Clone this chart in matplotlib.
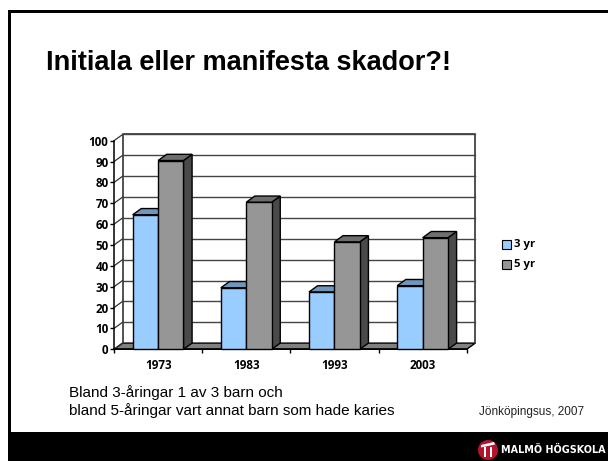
import matplotlib
matplotlib.use('Agg')
import matplotlib.pyplot as plt
from matplotlib.patches import Polygon, Rectangle, Circle

years = ['1973', '1983', '1993', '2003']
yr3 = [64.5, 29.5, 27.5, 30.5]
yr5 = [90.5, 70.5, 51.5, 53.5]
yticks = list(range(0, 101, 10))

W, H = 608, 461
plt.rcParams['font.family'] = ['Liberation Sans', 'DejaVu Sans']

fig = plt.figure(figsize=(W / 100, H / 100), dpi=100)

# slide layer in pixels
bg = fig.add_axes([0, 0, 1, 1])
bg.set_xlim(0, W)
bg.set_ylim(H, 0)
bg.axis('off')
bg.add_patch(Rectangle((8, 10), W - 8, 3, color='black', lw=0))
bg.add_patch(Rectangle((8, 10), 2.5, 422, color='black', lw=0))
bg.add_patch(Rectangle((8, 432), W - 8, 29, color='black', lw=0))
bg.text(46, 63, 'Initiala eller manifesta skador?!', fontsize=19.5, fontweight='bold', va='center')
bg.text(69, 393, 'Bland 3-åringar 1 av 3 barn och', fontsize=11, va='center')
bg.text(69, 411, 'bland 5-åringar vart annat barn som hade karies', fontsize=11, va='center')
bg.text(532, 412, 'Jönköpingsus, 2007', fontsize=8.5, va='center', ha='center', color='#222222')

# logo
bg.add_patch(Circle((488, 450), 10, color='#b5122b', lw=0))
bg.add_patch(Polygon([(481, 445), (494, 442), (495, 444.5), (481, 447.5)], color='white', lw=0))
for lx in (484, 489.5):
    bg.add_patch(Rectangle((lx, 447), 2, 10, color='white', lw=0))
bg.text(553, 450, 'MALMÖ HÖGSKOLA', fontsize=6.9, fontweight='bold', color='white', va='center',
        ha='center', family=['DejaVu Sans'])

# chart front plane: x 114-466.7, y 140.7-349.3 px
ax = fig.add_axes([114 / W, 1 - 349.3 / H, 352.7 / W, 208.6 / H])
ax.set_xlim(0, 4)
ax.set_ylim(0, 100)
ax.patch.set_alpha(0)
dx = 8.6 * 4 / 352.7    # depth of the 3d box
dy = 6.2 * 100 / 208.6

for s in ('top', 'right'):
    ax.spines[s].set_visible(False)
for s in ('left', 'bottom'):
    ax.spines[s].set_linewidth(1.1)
ax.set_xticks(range(5))
ax.set_xticklabels([])
ax.set_yticks(yticks)
ax.set_yticklabels([str(v) for v in yticks], fontsize=8.4, fontweight='bold',
                   family=['Open Sans', 'DejaVu Sans'])
ax.tick_params(axis='y', length=3, width=1, pad=1)
ax.tick_params(axis='x', length=3, width=1)
for i, y in enumerate(years):
    ax.text(i + 0.5, -4.6, y, ha='center', va='top', fontsize=8.4, fontweight='bold',
            family=['Open Sans', 'DejaVu Sans'])


def poly(pts, color, z, ec='black', lw=1.0):
    ax.add_patch(Polygon(pts, closed=True, facecolor=color, edgecolor=ec, lw=lw,
                         zorder=z, clip_on=False))


# floor and walls
poly([(0, 0), (4, 0), (4 + dx, dy), (dx, dy)], '#808080', 1)
ax.plot([dx, dx, 4 + dx, 4 + dx], [dy, 100 + dy, 100 + dy, dy], color='#333333', lw=1.2,
        zorder=1.5, clip_on=False)
for v in yticks:
    ax.plot([0, dx], [v, v + dy], color='#333333', lw=0.9, zorder=1.5, clip_on=False)
    if v > 0:
        ax.plot([dx, 4 + dx], [v + dy, v + dy], color='#444444', lw=1.0, zorder=1.5, clip_on=False)

bw = 0.288
gap = 0.212


def bar3d(x, v, front, top, side, z):
    poly([(x + bw, 0), (x + bw + dx, dy), (x + bw + dx, v + dy), (x + bw, v)], side, z)
    poly([(x, v), (x + dx, v + dy), (x + bw + dx, v + dy), (x + bw, v)], top, z)
    poly([(x, 0), (x + bw, 0), (x + bw, v), (x, v)], front, z + 0.1)


for i in range(len(years)):
    bar3d(i + gap, yr3[i], '#99ccff', '#7096bd', '#4f6d8a', 3 + i)
    bar3d(i + gap + bw, yr5[i], '#969696', '#6e6e6e', '#4a4a4a', 3.5 + i)

# legend
for ly, col, lab in [(244, '#99ccff', '3 yr'), (264, '#969696', '5 yr')]:
    bg.add_patch(Rectangle((502, ly - 4), 8.5, 8.5, facecolor=col, edgecolor='black', lw=0.8))
    bg.text(514, ly, lab, fontsize=8.2, fontweight='bold', va='center',
            family=['Open Sans', 'DejaVu Sans'])

fig.savefig('out.png', dpi=100)
